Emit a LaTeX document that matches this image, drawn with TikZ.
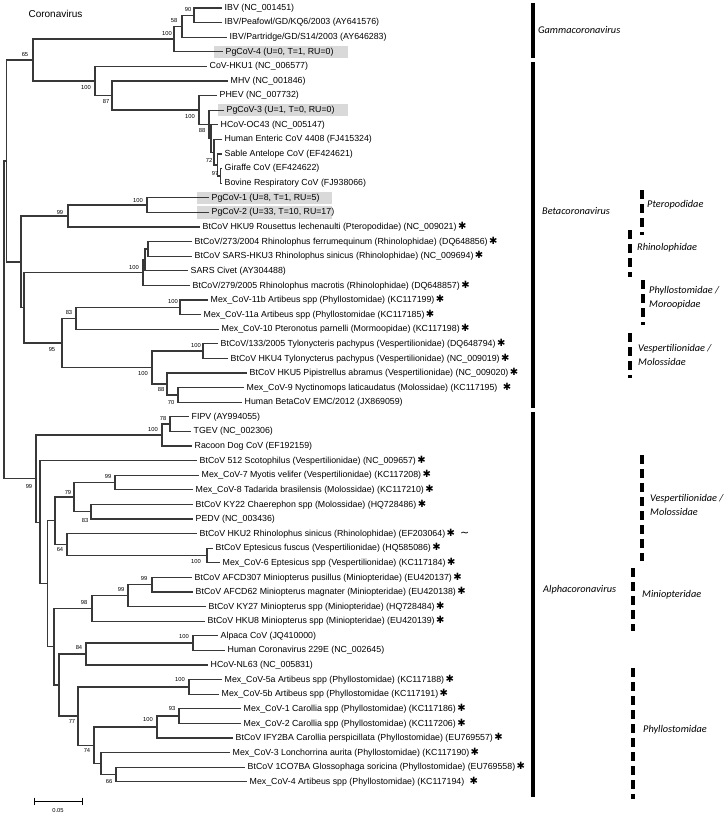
\documentclass[tikz,border=0pt]{standalone}
\usepackage{fontspec}
\setmainfont{Liberation Sans}
\newfontfamily\clfont{Carlito}
\newfontfamily\djv{DejaVu Sans}
\newcommand\astk{\,{\djv\fontsize{10}{10}\selectfont ✱}}
\begin{document}
\begin{tikzpicture}[x=1pt,y=-1pt,
  tree/.style={line width=1.3pt,draw=black!78},
  leaf/.style={anchor=west,inner sep=0pt,font=\fontsize{8.8}{10}\selectfont},
  bs/.style={inner sep=0pt,font=\fontsize{5.8}{6}\selectfont},
  clade/.style={anchor=west,inner sep=0pt,align=left,font=\clfont\itshape\fontsize{10.3}{14}\selectfont},
  cbar/.style={line width=4pt},
  dbar/.style={line width=4pt,dash pattern=on 9pt off 5pt},
  pgbox/.style={fill=gray!30,draw=none,anchor=west,minimum height=12.5pt,inner sep=0pt}]
\useasboundingbox (0,0) rectangle (726,814);
% title
\node[inner sep=0pt,font=\fontsize{10}{12}\selectfont] (title) at (55.5,14) {Coronavirus};
% highlight boxes
\node[pgbox,minimum width=134pt] (box4) at (214,51.8) {};
\node[pgbox,minimum width=130pt] (box8) at (218,110.2) {};
\node[pgbox,minimum width=135pt] (box14) at (197,197.8) {};
\node[pgbox,minimum width=135pt] (box15) at (197,212.4) {};
% leaf tips
\coordinate (t1) at (222,8);
\coordinate (t2) at (222,22.6);
\coordinate (t3) at (227,37.2);
\coordinate (t4) at (223,51.8);
\coordinate (t5) at (207,66.4);
\coordinate (t6) at (228,81);
\coordinate (t7) at (217,95.6);
\coordinate (t8) at (224,110.2);
\coordinate (t9) at (218,124.8);
\coordinate (t10) at (222,139.4);
\coordinate (t11) at (222,154);
\coordinate (t12) at (222,168.6);
\coordinate (t13) at (222,183.2);
\coordinate (t14) at (209,197.8);
\coordinate (t15) at (209,212.4);
\coordinate (t16) at (200,227);
\coordinate (t17) at (192,241.6);
\coordinate (t18) at (192,256.2);
\coordinate (t19) at (188,270.8);
\coordinate (t20) at (190,285.4);
\coordinate (t21) at (208,300);
\coordinate (t22) at (201,314.6);
\coordinate (t23) at (219,329.2);
\coordinate (t24) at (218,343.8);
\coordinate (t25) at (228,358.4);
\coordinate (t26) at (247,373);
\coordinate (t27) at (244,387.6);
\coordinate (t28) at (242,402.2);
\coordinate (t29) at (189,416.8);
\coordinate (t30) at (191,431.4);
\coordinate (t31) at (192,446);
\coordinate (t32) at (197,460.6);
\coordinate (t33) at (199,475.2);
\coordinate (t34) at (193,489.8);
\coordinate (t35) at (193,504.4);
\coordinate (t36) at (193,519);
\coordinate (t37) at (197,533.6);
\coordinate (t38) at (213,548.2);
\coordinate (t39) at (220,562.8);
\coordinate (t40) at (192,577.4);
\coordinate (t41) at (193,592);
\coordinate (t42) at (206,606.6);
\coordinate (t43) at (205,621.2);
\coordinate (t44) at (218,635.8);
\coordinate (t45) at (225,650.4);
\coordinate (t46) at (208,665);
\coordinate (t47) at (222,679.6);
\coordinate (t48) at (219,694.2);
\coordinate (t49) at (241,708.8);
\coordinate (t50) at (241,723.4);
\coordinate (t51) at (233,738);
\coordinate (t52) at (230,752.6);
\coordinate (t53) at (245,767.2);
\coordinate (t54) at (247,781.8);
% leaf labels
\node[leaf] (l1) at ([xshift=2.5pt]t1) {IBV (NC\_001451)};
\node[leaf] (l2) at ([xshift=2.5pt]t2) {IBV/Peafowl/GD/KQ6/2003 (AY641576)};
\node[leaf] (l3) at ([xshift=2.5pt]t3) {IBV/Partridge/GD/S14/2003 (AY646283)};
\node[leaf] (l4) at ([xshift=2.5pt]t4) {PgCoV-4 (U=0, T=1, RU=0)};
\node[leaf] (l5) at ([xshift=2.5pt]t5) {CoV-HKU1 (NC\_006577)};
\node[leaf] (l6) at ([xshift=2.5pt]t6) {MHV (NC\_001846)};
\node[leaf] (l7) at ([xshift=2.5pt]t7) {PHEV (NC\_007732)};
\node[leaf] (l8) at ([xshift=2.5pt]t8) {PgCoV-3 (U=1, T=0, RU=0)};
\node[leaf] (l9) at ([xshift=2.5pt]t9) {HCoV-OC43 (NC\_005147)};
\node[leaf] (l10) at ([xshift=2.5pt]t10) {Human Enteric CoV 4408 (FJ415324)};
\node[leaf] (l11) at ([xshift=2.5pt]t11) {Sable Antelope CoV (EF424621)};
\node[leaf] (l12) at ([xshift=2.5pt]t12) {Giraffe CoV (EF424622)};
\node[leaf] (l13) at ([xshift=2.5pt]t13) {Bovine Respiratory CoV (FJ938066)};
\node[leaf] (l14) at ([xshift=2.5pt]t14) {PgCoV-1 (U=8, T=1, RU=5)};
\node[leaf] (l15) at ([xshift=2.5pt]t15) {PgCoV-2 (U=33, T=10, RU=17)};
\node[leaf] (l16) at ([xshift=2.5pt]t16) {BtCoV HKU9 Rousettus lechenaulti (Pteropodidae) (NC\_009021)\astk};
\node[leaf] (l17) at ([xshift=2.5pt]t17) {BtCoV/273/2004 Rhinolophus ferrumequinum (Rhinolophidae) (DQ648856)\astk};
\node[leaf] (l18) at ([xshift=2.5pt]t18) {BtCoV SARS-HKU3 Rhinolophus sinicus (Rhinolophidae) (NC\_009694)\astk};
\node[leaf] (l19) at ([xshift=2.5pt]t19) {SARS Civet (AY304488)};
\node[leaf] (l20) at ([xshift=2.5pt]t20) {BtCoV/279/2005 Rhinolophus macrotis (Rhinolophidae) (DQ648857)\astk};
\node[leaf] (l21) at ([xshift=2.5pt]t21) {Mex\_CoV-11b Artibeus spp (Phyllostomidae) (KC117199)\astk};
\node[leaf] (l22) at ([xshift=2.5pt]t22) {Mex\_CoV-11a Artibeus spp (Phyllostomidae (KC117185)\astk};
\node[leaf] (l23) at ([xshift=2.5pt]t23) {Mex\_CoV-10 Pteronotus parnelli (Mormoopidae) (KC117198)\astk};
\node[leaf] (l24) at ([xshift=2.5pt]t24) {BtCoV/133/2005 Tylonycteris pachypus (Vespertilionidae) (DQ648794)\astk};
\node[leaf] (l25) at ([xshift=2.5pt]t25) {BtCoV HKU4 Tylonycterus pachypus (Vespertilionidae) (NC\_009019)\astk};
\node[leaf] (l26) at ([xshift=2.5pt]t26) {BtCoV HKU5 Pipistrellus abramus (Vespertilionidae) (NC\_009020)\astk};
\node[leaf] (l27) at ([xshift=2.5pt]t27) {Mex\_CoV-9 Nyctinomops laticaudatus (Molossidae) (KC117195)\hspace{4pt}\astk};
\node[leaf] (l28) at ([xshift=2.5pt]t28) {Human BetaCoV EMC/2012 (JX869059)};
\node[leaf] (l29) at ([xshift=2.5pt]t29) {FIPV (AY994055)};
\node[leaf] (l30) at ([xshift=2.5pt]t30) {TGEV (NC\_002306)};
\node[leaf] (l31) at ([xshift=2.5pt]t31) {Racoon Dog CoV (EF192159)};
\node[leaf] (l32) at ([xshift=2.5pt]t32) {BtCoV 512 Scotophilus (Vespertilionidae) (NC\_009657)\astk};
\node[leaf] (l33) at ([xshift=2.5pt]t33) {Mex\_CoV-7 Myotis velifer (Vespertilionidae) (KC117208)\astk};
\node[leaf] (l34) at ([xshift=2.5pt]t34) {Mex\_CoV-8 Tadarida brasilensis (Molossidae) (KC117210)\astk};
\node[leaf] (l35) at ([xshift=2.5pt]t35) {BtCoV KY22 Chaerephon spp (Molossidae) (HQ728486)\astk};
\node[leaf] (l36) at ([xshift=2.5pt]t36) {PEDV (NC\_003436)};
\node[leaf] (l37) at ([xshift=2.5pt]t37) {BtCoV HKU2 Rhinolophus sinicus (Rhinolophidae) (EF203064)\astk\hspace{5pt}{\djv\fontsize{11}{11}\selectfont ∼}};
\node[leaf] (l38) at ([xshift=2.5pt]t38) {BtCoV Eptesicus fuscus (Vespertilionidae) (HQ585086)\astk};
\node[leaf] (l39) at ([xshift=2.5pt]t39) {Mex\_CoV-6 Eptesicus spp (Vespertilionidae) (KC117184)\astk};
\node[leaf] (l40) at ([xshift=2.5pt]t40) {BtCoV AFCD307 Miniopterus pusillus (Miniopteridae) (EU420137)\astk};
\node[leaf] (l41) at ([xshift=2.5pt]t41) {BtCoV AFCD62 Miniopterus magnater (Miniopteridae) (EU420138)\astk};
\node[leaf] (l42) at ([xshift=2.5pt]t42) {BtCoV KY27 Miniopterus spp (Miniopteridae) (HQ728484)\astk};
\node[leaf] (l43) at ([xshift=2.5pt]t43) {BtCoV HKU8 Miniopterus spp (Miniopteridae) (EU420139)\astk};
\node[leaf] (l44) at ([xshift=2.5pt]t44) {Alpaca CoV (JQ410000)};
\node[leaf] (l45) at ([xshift=2.5pt]t45) {Human Coronavirus 229E (NC\_002645)};
\node[leaf] (l46) at ([xshift=2.5pt]t46) {HCoV-NL63 (NC\_005831)};
\node[leaf] (l47) at ([xshift=2.5pt]t47) {Mex\_CoV-5a Artibeus spp (Phyllostomidae) (KC117188)\astk};
\node[leaf] (l48) at ([xshift=2.5pt]t48) {Mex\_CoV-5b Artibeus spp (Phyllostomidae (KC117191)\astk};
\node[leaf] (l49) at ([xshift=2.5pt]t49) {Mex\_CoV-1 Carollia spp (Phyllostomidae) (KC117186)\astk};
\node[leaf] (l50) at ([xshift=2.5pt]t50) {Mex\_CoV-2 Carollia spp (Phyllostomidae) (KC117206)\astk};
\node[leaf] (l51) at ([xshift=2.5pt]t51) {BtCoV IFY2BA Carollia perspicillata (Phyllostomidae) (EU769557)\astk};
\node[leaf] (l52) at ([xshift=2.5pt]t52) {Mex\_CoV-3 Lonchorrina aurita (Phyllostomidae) (KC117190)\astk};
\node[leaf] (l53) at ([xshift=2.5pt]t53) {BtCoV 1CO7BA Glossophaga soricina (Phyllostomidae) (EU769558)\astk};
\node[leaf] (l54) at ([xshift=2.5pt]t54) {Mex\_CoV-4 Artibeus spp (Phyllostomidae) (KC117194)\hspace{4pt}\astk};
% internal nodes
\coordinate (root) at (4,319.8);
\coordinate (nA) at (6.5,161);
\coordinate (n65) at (33,60);
\coordinate (nG) at (174,39);
\coordinate (n58) at (182,26.25);
\coordinate (n90) at (194,15.3);
\coordinate (nB1) at (95,81);
\coordinate (n87) at (112,95.5);
\coordinate (n100b) at (199,110);
\coordinate (n88) at (209,124.3);
\coordinate (nX) at (211,138.5);
\coordinate (nY) at (214,152.2);
\coordinate (nZ) at (217.5,165);
\coordinate (nW) at (220.5,175.9);
\coordinate (nB) at (21,261.9);
\coordinate (n99) at (68,216);
\coordinate (nP) at (147,205.1);
\coordinate (nC) at (24,307.75);
\coordinate (nS1) at (143,272.6);
\coordinate (nS2) at (145,259.85);
\coordinate (nS3) at (148,248.9);
\coordinate (n95) at (62,342.9);
\coordinate (n83) at (76,318.25);
\coordinate (nM11) at (180,307.3);
\coordinate (n100c) at (152,367.5);
\coordinate (n100e) at (203,351.1);
\coordinate (n88b) at (167,384);
\coordinate (n70) at (178,394.9);
\coordinate (nAl) at (36,478.6);
\coordinate (n100f) at (162,435);
\coordinate (n78) at (170,424.1);
\coordinate (nD) at (40,522.2);
\coordinate (nE) at (47.5,583.75);
\coordinate (nF) at (55,520.8);
\coordinate (n79) at (74,497.1);
\coordinate (n99b) at (115,482.5);
\coordinate (n83b) at (91,511.7);
\coordinate (n64) at (67,544.55);
\coordinate (n100g) at (207,555.5);
\coordinate (nG2) at (54,646.7);
\coordinate (n98) at (92,608.4);
\coordinate (n99c) at (128,595.65);
\coordinate (n99d) at (152,584.7);
\coordinate (nH) at (59,685.05);
\coordinate (n84) at (86,654);
\coordinate (n100h) at (193,643.1);
\coordinate (n77) at (78,716.1);
\coordinate (n100i) at (189,686.9);
\coordinate (n74) at (94,745.3);
\coordinate (n100j) at (157,727.05);
\coordinate (n93) at (179,716.1);
\coordinate (n74s) at (101,763.55);
\coordinate (n66) at (116,774.5);
% branches
\foreach \p/\c in {root/nA,root/nAl,nA/n65,nA/nB,n65/nG,n65/nB1,nG/n58,nG/t4,n58/n90,n58/t3,n90/t1,n90/t2,
  nB1/t5,nB1/n87,n87/t6,n87/n100b,n100b/t7,n100b/n88,n88/t8,n88/nX,nX/t9,nX/nY,nY/t10,nY/nZ,nZ/t11,nZ/nW,nW/t12,nW/t13,
  nB/n99,nB/nC,n99/nP,n99/t16,nP/t14,nP/t15,nC/nS1,nC/n95,nS1/nS2,nS1/t20,nS2/nS3,nS2/t19,nS3/t17,nS3/t18,
  n95/n83,n95/n100c,n83/nM11,n83/t23,nM11/t21,nM11/t22,n100c/n100e,n100c/n88b,n100e/t24,n100e/t25,n88b/t26,n88b/n70,n70/t27,n70/t28,
  nAl/n100f,nAl/nD,n100f/n78,n100f/t31,n78/t29,n78/t30,nD/t32,nD/nE,nE/nF,nE/nG2,nF/n79,nF/n64,n79/n99b,n79/n83b,
  n99b/t33,n99b/t34,n83b/t35,n83b/t36,n64/t37,n64/n100g,n100g/t38,n100g/t39,nG2/n98,nG2/nH,n98/n99c,n98/t43,
  n99c/n99d,n99c/t42,n99d/t40,n99d/t41,nH/n84,nH/n77,n84/n100h,n84/t46,n100h/t44,n100h/t45,n77/n100i,n77/n74,
  n100i/t47,n100i/t48,n74/n100j,n74/n74s,n100j/n93,n100j/t51,n93/t49,n93/t50,n74s/t52,n74s/n66,n66/t53,n66/t54}
  {\draw[tree] (\p) |- (\c);}
% bootstrap values
\node[bs] (bs1) at (188,10) {90};
\node[bs] (bs2) at (174,21) {58};
\node[bs] (bs3) at (167,34) {100};
\node[bs] (bs4) at (25,55) {65};
\node[bs] (bs5) at (86,88) {100};
\node[bs] (bs6) at (106,102) {87};
\node[bs] (bs7) at (190,117) {100};
\node[bs] (bs8) at (202,131) {88};
\node[bs] (bs9) at (209,160) {72};
\node[bs] (bs10) at (215,174) {97};
\node[bs] (bs11) at (138,200) {100};
\node[bs] (bs12) at (60,212) {99};
\node[bs] (bs13) at (134,267) {100};
\node[bs] (bs14) at (173,301) {100};
\node[bs] (bs15) at (69,312) {83};
\node[bs] (bs16) at (52,349) {95};
\node[bs] (bs17) at (143,373) {100};
\node[bs] (bs18) at (196,345) {100};
\node[bs] (bs19) at (161,389) {88};
\node[bs] (bs20) at (171,402) {70};
\node[bs] (bs21) at (163,418) {78};
\node[bs] (bs22) at (153,429) {100};
\node[bs] (bs23) at (29,486) {99};
\node[bs] (bs24) at (108,476) {99};
\node[bs] (bs25) at (68,492) {79};
\node[bs] (bs26) at (85,520) {83};
\node[bs] (bs27) at (60,549) {64};
\node[bs] (bs28) at (196,561) {100};
\node[bs] (bs29) at (144,578) {99};
\node[bs] (bs30) at (121,589) {99};
\node[bs] (bs31) at (84,602) {98};
\node[bs] (bs32) at (184,636) {100};
\node[bs] (bs33) at (79,647) {84};
\node[bs] (bs34) at (180,679) {100};
\node[bs] (bs35) at (172,708) {93};
\node[bs] (bs36) at (148,719) {100};
\node[bs] (bs37) at (72,721) {77};
\node[bs] (bs38) at (87,750) {74};
\node[bs] (bs39) at (109,781) {66};
% scale bar
\coordinate (sb1) at (34,801);
\coordinate (sb2) at (82,801);
\draw[line width=1pt] (sb1) -- (sb2);
\draw[line width=1pt] ([yshift=3.5pt]sb1) -- ([yshift=-3.5pt]sb1);
\draw[line width=1pt] ([yshift=3.5pt]sb2) -- ([yshift=-3.5pt]sb2);
\node[bs] (sbl) at (58,810) {0.05};
% genus bars
\coordinate (ga) at (533,3); \coordinate (gb) at (533,58);
\coordinate (ba) at (533,62); \coordinate (bb) at (533,408);
\coordinate (aa) at (533,412); \coordinate (ab) at (533,797);
\draw[cbar] (ga) -- (gb);
\draw[cbar] (ba) -- (bb);
\draw[cbar] (aa) -- (ab);
\node[clade] (gl) at (538,30) {Gammacoronavirus};
\node[clade] (bl) at (542,211) {Betacoronavirus};
\node[clade] (al) at (543,590) {Alphacoronavirus};
% family bars
\coordinate (f1a) at (642,190); \coordinate (f1b) at (642,235);
\coordinate (f2a) at (630,230); \coordinate (f2b) at (630,277);
\coordinate (f3a) at (643,280); \coordinate (f3b) at (643,325);
\coordinate (f4a) at (630,333); \coordinate (f4b) at (630,378);
\coordinate (f5a) at (642,455); \coordinate (f5b) at (642,561);
\coordinate (f6a) at (633,568); \coordinate (f6b) at (633,631);
\coordinate (f7a) at (633,668); \coordinate (f7b) at (633,799);
\foreach \a/\b in {f1a/f1b,f2a/f2b,f3a/f3b,f4a/f4b,f5a/f5b,f6a/f6b,f7a/f7b}
  {\draw[dbar] (\a) -- (\b);}
\node[clade] (fl1) at (647,205) {Pteropodidae};
\node[clade] (fl2) at (637,248) {Rhinolophidae};
\node[clade] (fl3) at (649,297.5) {Phyllostomidae /\\Moroopidae};
\node[clade] (fl4) at (638,355) {Vespertilionidae /\\Molossidae};
\node[clade] (fl5) at (650,505) {Vespertilionidae /\\Molossidae};
\node[clade] (fl6) at (642,595) {Miniopteridae};
\node[clade] (fl7) at (643,730) {Phyllostomidae};
\end{tikzpicture}
\end{document}
